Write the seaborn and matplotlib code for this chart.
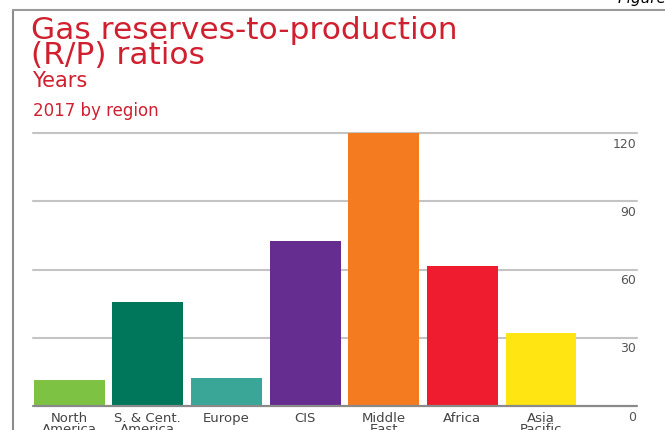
import matplotlib
matplotlib.use("Agg")
import matplotlib.pyplot as plt
from matplotlib.lines import Line2D
import seaborn as sns
import pandas as pd

regions = ["North\nAmerica", "S. & Cent.\nAmerica", "Europe", "CIS", "Middle\nEast", "Africa", "Asia\nPacific"]
rp_years = [11.4, 45.7, 12.3, 72.6, 120.0, 61.5, 32.1]
bar_colors = ["#7dc242", "#00775a", "#3aa697", "#662d91", "#f47b20", "#ee1c2e", "#ffe512"]
y_ticks = [0, 30, 60, 90, 120]

sns.set_theme(style="white")
plt.rcParams['font.family'] = ['DejaVu Sans']

W, H = 665, 430
fig = plt.figure(figsize=(W / 100, H / 100), dpi=100)
ax = fig.add_axes([33 / W, 1 - 406 / H, (637 - 33) / W, (406 - 133) / H])

df = pd.DataFrame({"region": regions, "years": rp_years})
sns.barplot(data=df, x="region", y="years", hue="region", palette=bar_colors,
            dodge=False, legend=False, width=0.9, saturation=1, ax=ax)
for p in ax.patches:
    p.set_edgecolor("none")
    p.set_zorder(3)

ax.set_xlim(-0.46, 7.22)
ax.set_ylim(0, 120)
for s in ax.spines.values():
    s.set_visible(False)
ax.set_xlabel("")
ax.set_ylabel("")
ax.set_yticks([])
ax.tick_params(axis="x", length=0, pad=4, labelsize=9.5, labelcolor="#444444")
for lbl in ax.get_xticklabels():
    lbl.set_linespacing(0.8)

for v in y_ticks:
    if v == 0:
        ax.axhline(v, color="#8a8a8a", lw=1.6, zorder=4, clip_on=False)
    else:
        ax.axhline(v, color="#c4c4c4", lw=1.5, zorder=1, clip_on=False)
    ax.text(7.21, v - 2.0, str(v), ha="right", va="top", fontsize=9, color="#555555")

red = "#d0202f"
fig.text(31 / W, 1 - 64 / H, "Gas reserves-to-production\n(R/P) ratios", ha="left",
         va="baseline", fontsize=22.5, color=red, linespacing=0.82)
fig.text(32 / W, 1 - 87 / H, "Years", ha="left", va="baseline", fontsize=15, color=red)
fig.text(33 / W, 1 - 116 / H, "2017 by region", ha="left", va="baseline", fontsize=12, color=red)
fig.text(618 / W, 1 - 3 / H, "Figure 6", ha="left", va="baseline", fontsize=11,
         style="italic", color="black")

fig.add_artist(Line2D([13 / W, 13 / W], [0, 1 - 10 / H], color="#8c8c8c", lw=1.5))
fig.add_artist(Line2D([13 / W, 1], [1 - 10 / H, 1 - 10 / H], color="#9a9a9a", lw=1.5))

fig.savefig("out.png", dpi=100)
